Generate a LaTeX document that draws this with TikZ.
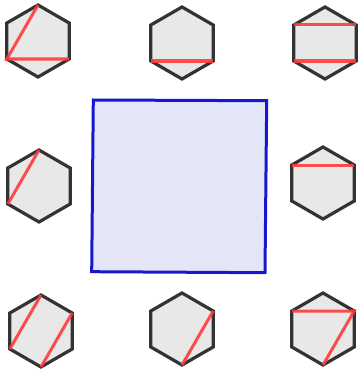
\documentclass[tikz,border=0pt]{standalone}
\usetikzlibrary{calc}

\definecolor{hexline}{HTML}{333333}
\definecolor{hexfill}{HTML}{E8E8E8}
\definecolor{chordred}{HTML}{FF3B3B}
\definecolor{quadblue}{HTML}{1717CC}
\definecolor{quadfill}{HTML}{E4E6F8}

\begin{document}
\begin{tikzpicture}[x=1pt, y=-1pt,
  hexa/.style={draw=hexline, fill=hexfill, line width=3.2pt},
  chord/.style={draw=chordred, line width=3pt, opacity=0.9},
  quad/.style={draw=quadblue, fill=quadfill, line width=3pt}]
  \useasboundingbox (0,0) rectangle (358,369);

  % Hexagons: name/centre x/centre y
  \foreach \n/\x/\y in {a/38/41, b/182/43, c/325/43, d/39/186, e/323/183, f/41/331, g/182/329, h/323/329} {
    \coordinate (\n) at (\x,\y);
    \foreach \k/\ang in {t/270, ul/210, ll/150, b/90, lr/30, ur/330}
      \coordinate (\n-\k) at ($(\n)+(\ang:36)$);
    \draw[hexa] (\n-t) -- (\n-ul) -- (\n-ll) -- (\n-b) -- (\n-lr) -- (\n-ur) -- cycle;
  }

  % Red chords
  \draw[chord] (a-t) -- (a-ll) -- (a-lr);
  \draw[chord] (b-ll) -- (b-lr);
  \draw[chord] (c-ul) -- (c-ur);
  \draw[chord] (c-ll) -- (c-lr);
  \draw[chord] (d-t) -- (d-ll);
  \draw[chord] (e-ul) -- (e-ur);
  \draw[chord] (f-t) -- (f-ll);
  \draw[chord] (f-ur) -- (f-b);
  \draw[chord] (g-ur) -- (g-b);
  \draw[chord] (h-ul) -- (h-ur) -- (h-b);

  % Centre square
  \coordinate (q1) at (93.3,100);
  \coordinate (q2) at (266.7,100.7);
  \coordinate (q3) at (265,272.7);
  \coordinate (q4) at (91.7,271.7);
  \draw[quad] (q1) -- (q2) -- (q3) -- (q4) -- cycle;
\end{tikzpicture}
\end{document}
